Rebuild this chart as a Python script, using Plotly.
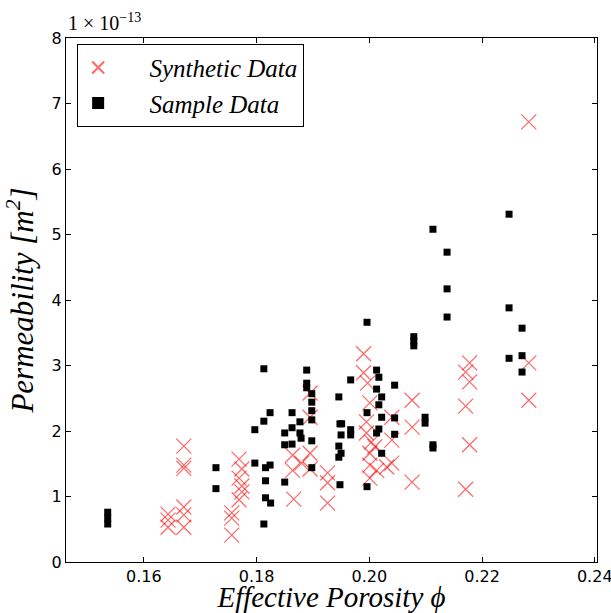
import plotly.graph_objects as go

# Permeability values are stored in units of 1e-13 m^2
synthetic_phi = [
    0.1643, 0.1643, 0.1643,
    0.1671, 0.1671, 0.1671, 0.1671, 0.1671, 0.1671,
    0.1756, 0.1756, 0.1756,
    0.1769, 0.1774, 0.1769, 0.1774, 0.1774, 0.1769,
    0.1866, 0.1864, 0.1895, 0.1880, 0.1864, 0.1895, 0.1895, 0.1895,
    0.1926, 0.1926, 0.1926,
    0.1990, 0.1990,
    0.1997, 0.2001, 0.1995, 0.1995, 0.2004, 0.2010, 0.2001, 0.2001, 0.2013, 0.2001,
    0.2031, 0.2040, 0.2040, 0.2040,
    0.2076, 0.2076, 0.2076,
    0.2178, 0.2171, 0.2178, 0.2171, 0.2178, 0.2171,
    0.2283, 0.2283, 0.2283,
]
synthetic_perm = [
    0.73, 0.64, 0.53,
    1.77, 1.48, 1.43, 0.84, 0.72, 0.53,
    0.75, 0.67, 0.41,
    1.57, 1.42, 1.28, 1.16, 1.07, 0.95,
    0.96, 1.63, 1.66, 1.51, 1.40, 1.42, 2.58, 2.21,
    1.36, 1.21, 0.90,
    3.18, 2.89,
    2.73, 2.43, 2.14, 1.97, 1.83, 1.76, 1.66, 1.48, 1.40, 1.28,
    1.45, 2.21, 1.86, 1.51,
    2.47, 2.06, 1.22,
    3.04, 2.90, 2.75, 2.38, 1.79, 1.11,
    6.72, 3.04, 2.47,
]

sample_phi = [
    0.1536, 0.1536, 0.1536,
    0.1728, 0.1728,
    0.1797, 0.1797,
    0.1813, 0.1813, 0.1813,
    0.1816, 0.1816, 0.1816,
    0.1824, 0.1824, 0.1825,
    0.1850, 0.1850, 0.1850,
    0.1863, 0.1863, 0.1863,
    0.1877, 0.1877, 0.1879,
    0.1889, 0.1889, 0.1889,
    0.1898, 0.1898, 0.1898, 0.1898, 0.1898, 0.1898,
    0.1946, 0.1948, 0.1951, 0.1950, 0.1946, 0.1950, 0.1946, 0.1948,
    0.1967, 0.1967, 0.1967,
    0.1996, 0.1996, 0.1996,
    0.2013, 0.2017, 0.2013, 0.2022, 0.2017, 0.2022, 0.2017, 0.2013, 0.2022,
    0.2045, 0.2045, 0.2045,
    0.2079, 0.2079, 0.2079,
    0.2099, 0.2099,
    0.2113, 0.2113, 0.2113,
    0.2138, 0.2138, 0.2138,
    0.2248, 0.2248, 0.2248,
    0.2271, 0.2271, 0.2271,
]
sample_perm = [
    0.76, 0.67, 0.58,
    1.44, 1.12,
    2.02, 1.51,
    2.95, 2.15, 0.58,
    1.44, 1.24, 0.98,
    2.28, 1.48, 0.90,
    1.97, 1.79, 1.22,
    2.28, 2.05, 1.80,
    2.14, 1.97, 1.89,
    2.93, 2.73, 2.66,
    2.57, 2.44, 2.31, 2.17, 1.85, 1.44,
    2.52, 2.11, 2.11, 1.94, 1.77, 1.66, 1.60, 1.18,
    2.78, 2.02, 1.94,
    3.66, 2.28, 1.15,
    2.93, 2.82, 2.64, 2.52, 2.40, 2.21, 2.03, 1.97, 1.66,
    2.70, 2.20, 1.95,
    3.44, 3.37, 3.30,
    2.21, 2.12,
    5.08, 1.79, 1.74,
    4.73, 4.17, 3.74,
    5.31, 3.88, 3.11,
    3.57, 3.15, 2.90,
]

x_ticks = [0.16, 0.18, 0.20, 0.22, 0.24]
y_ticks = [0, 1, 2, 3, 4, 5, 6, 7, 8]

serif = "Liberation Serif"
sans = "DejaVu Sans"
pad = "&nbsp;" * 5

fig = go.Figure()
fig.add_trace(go.Scatter(
    x=synthetic_phi, y=synthetic_perm, mode="markers",
    name=pad + "<i>Synthetic Data</i>",
    marker=dict(symbol="x-thin", size=15, color="rgba(255,0,0,0.6)",
                line=dict(width=1.2, color="rgba(255,0,0,0.6)")),
))
fig.add_trace(go.Scatter(
    x=sample_phi, y=sample_perm, mode="markers",
    name=pad + "<i>Sample Data</i>",
    marker=dict(symbol="square", size=7, color="black", line=dict(width=0)),
))

axis_common = dict(
    showgrid=False, zeroline=False, showline=True, linecolor="black",
    linewidth=1, mirror="ticks", ticks="inside", ticklen=5,
    tickcolor="black", tickfont=dict(family=sans, size=16, color="black"),
    automargin=False, ticklabeloverflow="allow",
)

fig.update_layout(
    width=611, height=613,
    margin=dict(l=66, r=14, t=38, b=51),
    paper_bgcolor="white", plot_bgcolor="white",
    xaxis=dict(range=[0.1462, 0.2404], tickvals=x_ticks, tickformat=".2f",
               title=dict(text="<i>Effective Porosity ϕ</i>",
                          font=dict(family=serif, size=29, color="black"),
                          standoff=9),
               **axis_common),
    yaxis=dict(range=[0, 8], tickvals=y_ticks,
               title=dict(text="<i>Permeability [m<sup>2</sup>]</i>",
                          font=dict(family=serif, size=31, color="black"),
                          standoff=8),
               **axis_common),
    legend=dict(x=0.021, y=0.989, xanchor="left", yanchor="top",
                bgcolor="white", bordercolor="black", borderwidth=1,
                font=dict(family=serif, size=25, color="black"),
                itemsizing="constant", tracegroupgap=2),
    showlegend=True,
)

fig.add_annotation(
    text="1 × 10<sup>−13</sup>", xref="paper", yref="paper",
    x=0.0, y=1.0, xanchor="left", yanchor="bottom", yshift=2, showarrow=False,
    font=dict(family=serif, size=20, color="black"),
)

fig.write_html("out.html")
